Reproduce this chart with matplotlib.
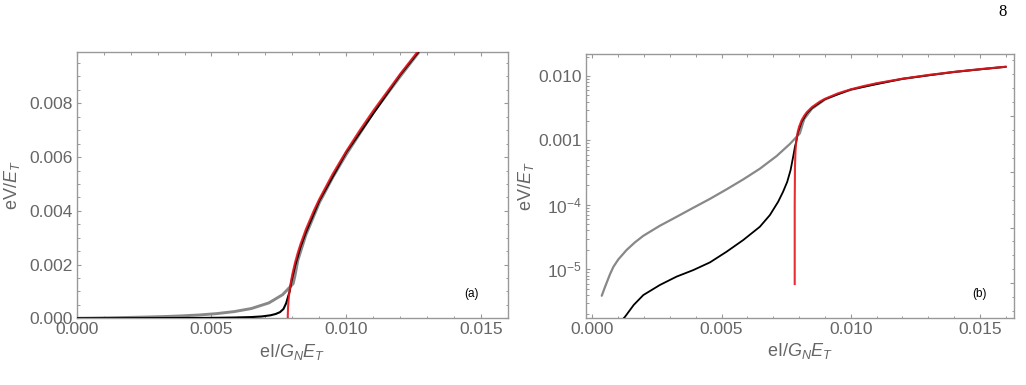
import matplotlib
matplotlib.use("Agg")
import matplotlib.pyplot as plt
from matplotlib.ticker import MultipleLocator, FixedLocator, FuncFormatter, LogLocator, NullFormatter

plt.rcParams['font.family'] = ['Liberation Sans', 'DejaVu Sans']
plt.rcParams['mathtext.fontset'] = 'custom'
plt.rcParams['mathtext.rm'] = 'Liberation Sans'
plt.rcParams['mathtext.it'] = 'Liberation Sans:italic'
plt.rcParams['mathtext.bf'] = 'Liberation Sans:bold'

# ---- data ----
gray_x = [0.0, 0.00036, 0.00048, 0.00068, 0.00081, 0.0010, 0.00132, 0.00164, 0.00197,
          0.00261, 0.00326, 0.0039, 0.00455, 0.00519, 0.00584, 0.00648, 0.00713,
          0.00764, 0.00803, 0.0081, 0.0082, 0.0085, 0.0090, 0.0095, 0.0100, 0.0110,
          0.0120, 0.0130, 0.0140, 0.0150, 0.0160]
gray_y = [0.0, 3.88e-6, 5.24e-6, 8.4e-6, 1.09e-5, 1.42e-5, 1.99e-5, 2.61e-5, 3.31e-5,
          4.74e-5, 6.53e-5, 9.0e-5, 1.24e-4, 1.74e-4, 2.49e-4, 3.64e-4, 5.73e-4,
          8.8e-4, 1.29e-3, 1.6e-3, 2.15e-3, 3.1e-3, 4.3e-3, 5.25e-3, 6.1e-3, 7.65e-3,
          9.0e-3, 1.03e-2, 1.155e-2, 1.275e-2, 1.39e-2]

black_x = [0.0, 0.0005, 0.0010, 0.00126, 0.0016, 0.00197, 0.00261, 0.00326, 0.0039,
           0.00455, 0.00519, 0.00584, 0.00648, 0.00687, 0.00719, 0.00738, 0.00754,
           0.00767, 0.00777, 0.00784, 0.0079, 0.00795, 0.0081, 0.0083, 0.0085, 0.0090,
           0.0100, 0.0120, 0.0140, 0.0160]
black_y = [0.0, 8e-7, 1.4e-6, 1.83e-6, 2.8e-6, 3.98e-6, 5.7e-6, 7.7e-6, 9.7e-6,
           1.28e-5, 1.87e-5, 2.85e-5, 4.57e-5, 6.95e-5, 1.12e-4, 1.6e-4, 2.28e-4,
           3.47e-4, 5.6e-4, 8.0e-4, 1.0e-3, 1.3e-3, 1.95e-3, 2.65e-3, 3.2e-3, 4.38e-3,
           6.18e-3, 9.06e-3, 1.158e-2, 1.393e-2]

red_x = [0.00783, 0.00783, 0.00784, 0.00786, 0.00788, 0.0079, 0.00795, 0.0080, 0.0081,
         0.0082, 0.0083, 0.0085, 0.0088, 0.0090, 0.0095, 0.0100, 0.0105, 0.0110,
         0.0120, 0.0130, 0.0140, 0.0150, 0.0160]
red_y = [5.9e-6, 1.0e-4, 3.96e-4, 6.86e-4, 8.86e-4, 1.049e-3, 1.376e-3, 1.640e-3,
         2.074e-3, 2.435e-3, 2.753e-3, 3.308e-3, 4.016e-3, 4.437e-3, 5.380e-3,
         6.220e-3, 6.996e-3, 7.726e-3, 9.094e-3, 1.0377e-2, 1.1606e-2, 1.2794e-2,
         1.3953e-2]

xticks = [0.000, 0.005, 0.010, 0.015]
yticks_lin = [0.000, 0.002, 0.004, 0.006, 0.008]
yticks_log = [1e-5, 1e-4, 1e-3, 1e-2]
log_labels = {1e-5: r'$10^{-5}$', 1e-4: r'$10^{-4}$', 1e-3: '0.001', 1e-2: '0.010'}

W, H = 1026, 385
fig = plt.figure(figsize=(W / 100, H / 100), dpi=100)

TXT = '#666666'
FRAME = '#999999'
GRAY = '#888888'
RED = '#e8161c'

axA = fig.add_axes([76.7 / W, 1 - 318.3 / H, 431.3 / W, 266.0 / H])
axB = fig.add_axes([586 / W, 1 - 317.7 / H, 427.5 / W, 263.7 / H])


def style(ax):
    for s in ax.spines.values():
        s.set_color(FRAME)
        s.set_linewidth(1.0)
    ax.tick_params(which='both', direction='in', top=True, right=True,
                   color=FRAME, labelcolor=TXT, labelsize=12.5, pad=3)
    ax.tick_params(which='major', length=3.2, width=0.8)
    ax.tick_params(which='minor', length=1.8, width=0.7)


def draw(ax, glw, blw):
    ax.plot(gray_x, gray_y, color=GRAY, lw=glw, solid_capstyle='round', zorder=2)
    ax.plot(black_x, black_y, color='black', lw=blw, solid_capstyle='round', zorder=3)
    ax.plot(red_x, red_y, color=RED, lw=1.5, alpha=0.9, zorder=4)


# ---- panel (a) ----
style(axA)
draw(axA, 2.1, 1.5)
axA.set_xlim(0, 0.016)
axA.set_ylim(0, 0.0099)
axA.set_xticks(xticks)
axA.set_yticks(yticks_lin)
axA.xaxis.set_minor_locator(MultipleLocator(0.001))
axA.yaxis.set_minor_locator(MultipleLocator(0.0005))
axA.xaxis.set_major_formatter(FuncFormatter(lambda v, p: f'{v:.3f}'))
axA.yaxis.set_major_formatter(FuncFormatter(lambda v, p: f'{v:.3f}'))
axA.set_xlabel(r'$\mathrm{eI}/G_N E_T$', color=TXT, fontsize=13, labelpad=3)
axA.set_ylabel(r'$\mathrm{eV}/E_T$', color=TXT, fontsize=13, labelpad=5)
axA.text(0.915, 0.09, '(a)', transform=axA.transAxes, fontsize=8.5, ha='center', va='center')

# ---- panel (b) ----
style(axB)
axB.set_yscale('log', nonpositive='mask')
draw(axB, 1.6, 1.3)
axB.set_xlim(-0.00025, 0.0163)
axB.set_ylim(1.77e-6, 0.022)
axB.set_xticks(xticks)
axB.xaxis.set_minor_locator(MultipleLocator(0.001))
axB.yaxis.set_major_locator(FixedLocator(yticks_log))
axB.yaxis.set_minor_locator(LogLocator(base=10, subs=range(2, 10)))
axB.yaxis.set_minor_formatter(NullFormatter())
axB.xaxis.set_major_formatter(FuncFormatter(lambda v, p: f'{v:.3f}'))
axB.yaxis.set_major_formatter(FuncFormatter(lambda v, p: log_labels.get(min(log_labels, key=lambda k: abs(k - v)), '')))
axB.tick_params(which='both', right=False)
axB.set_xlabel(r'$\mathrm{eI}/G_N E_T$', color=TXT, fontsize=13, labelpad=3)
axB.set_ylabel(r'$\mathrm{eV}/E_T$', color=TXT, fontsize=13, labelpad=2)
axB.text(0.92, 0.09, '(b)', transform=axB.transAxes, fontsize=8.5, ha='center', va='center')

# right-frame ticks of panel (b) (uniformly spaced, as in the reference)
twin = axB.twinx()
twin.set_ylim(0, 1)
twin.yaxis.set_major_locator(FixedLocator([0.130 + 0.212 * k for k in range(4)]))
twin.yaxis.set_minor_locator(FixedLocator([0.024 + 0.053 * k for k in range(19)]))
twin.tick_params(which='both', direction='in', labelright=False, color=FRAME)
twin.tick_params(which='major', length=3.2, width=0.8)
twin.tick_params(which='minor', length=1.8, width=0.7)
for s in twin.spines.values():
    s.set_visible(False)

fig.text(1003 / W, 1 - 12 / H, '8', family='Liberation Serif', fontsize=12, ha='center', va='center')

fig.savefig('out.png', dpi=100)
